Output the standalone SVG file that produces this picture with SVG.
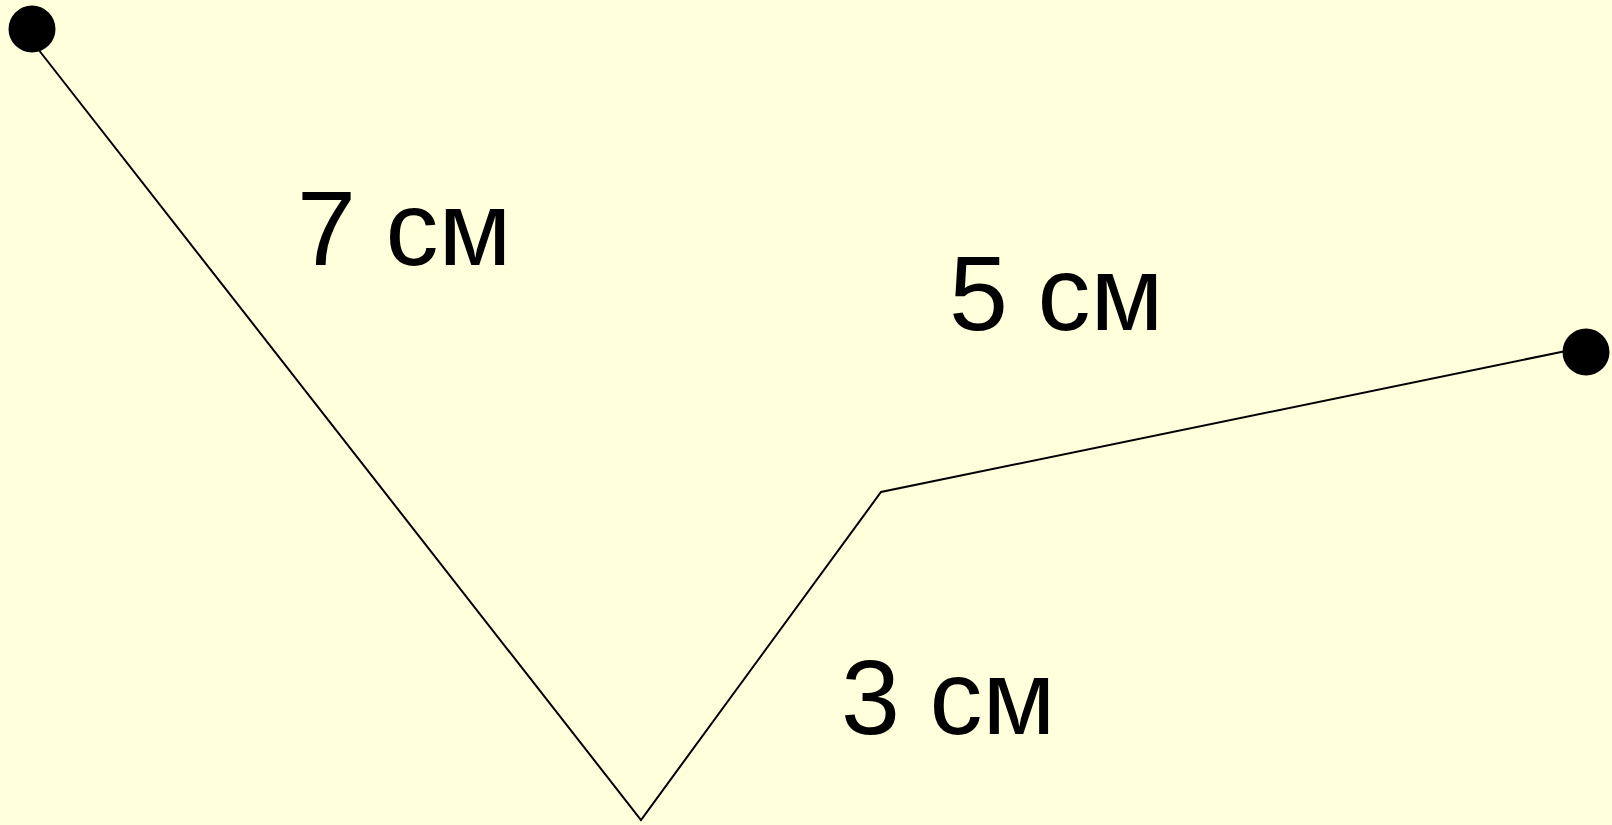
<svg xmlns="http://www.w3.org/2000/svg" width="1612" height="825" viewBox="0 0 1612 825">
<style>
.lbl{font-family:"Liberation Sans",Arial,sans-serif;font-size:106px;fill:#000}
.edge{fill:none;stroke:#000;stroke-width:2;stroke-linejoin:miter}
.dot{fill:#000}
</style>
<rect width="1612" height="825" fill="#FFFFDC"/>
<g id="connectors">
<polyline class="edge" points="38,49 641,820 881,492 1566,351"/>
</g>
<g id="pointA"><circle class="dot" cx="32" cy="29" r="23.5"/></g>
<g id="pointB"><circle class="dot" cx="1586" cy="352" r="23.5"/></g>
<g id="label7"><text class="lbl" x="297" y="265">7 см</text></g>
<g id="label5"><text class="lbl" x="949" y="330">5 см</text></g>
<g id="label3"><text class="lbl" x="841" y="734">3 см</text></g>
</svg>
